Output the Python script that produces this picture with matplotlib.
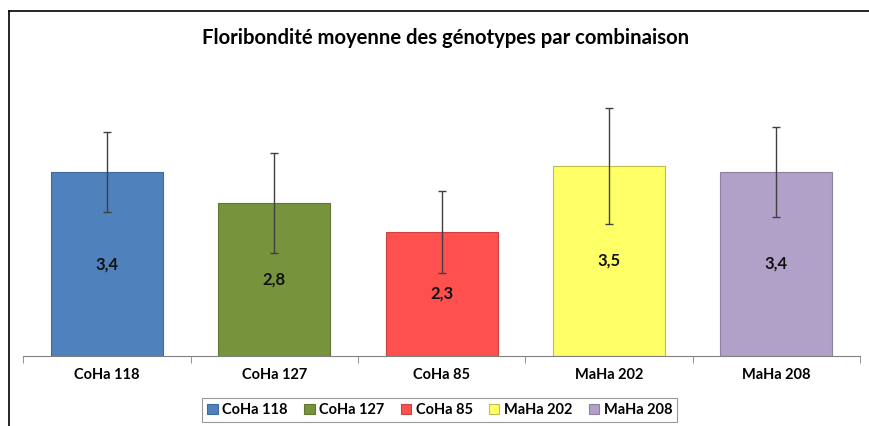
import numpy as np
import matplotlib
matplotlib.use("Agg")
import matplotlib.pyplot as plt
from matplotlib.lines import Line2D
from matplotlib.patches import Patch

plt.rcParams['font.family'] = ['Lato', 'DejaVu Sans']

genotypes = ["CoHa 118", "CoHa 127", "CoHa 85", "MaHa 202", "MaHa 208"]
means = [3.40, 2.83, 2.30, 3.52, 3.41]
errors = [0.74, 0.92, 0.76, 1.08, 0.84]
colors = ["#4F81BD", "#77933C", "#FF5050", "#FFFF66", "#B1A0C7"]
edges = ["#3F6A9E", "#5F7830", "#CC4040", "#BDBD4C", "#8E80A0"]

fig = plt.figure(figsize=(8.7, 4.26), dpi=100)
ax = fig.add_axes([0.0268, 0.165, 0.9617, 0.633])

x = np.arange(len(genotypes))
ax.bar(x, means, width=0.67, color=colors, edgecolor=edges, linewidth=0.8, zorder=2)
ax.errorbar(x, means, yerr=errors, fmt='none', ecolor='#404040', elinewidth=1.0,
            capsize=3, capthick=1.0, zorder=3)

for xi, m in zip(x, means):
    ax.text(xi, m / 2, ("%.1f" % m).replace('.', ','), ha='center', va='center',
            fontsize=12, fontweight='bold', color='#111111', zorder=4)

ax.set_xlim(-0.5, len(genotypes) - 0.5)
ax.set_ylim(0, 5)
ax.set_yticks([])
for s in ['top', 'right', 'left']:
    ax.spines[s].set_visible(False)
ax.spines['bottom'].set_color('#808080')

ax.set_xticks(x)
ax.set_xticklabels(genotypes, fontsize=10.5, fontweight='bold')
ax.tick_params(axis='x', which='major', length=0, pad=9)
ax.set_xticks(np.arange(-0.5, len(genotypes)), minor=True)
ax.tick_params(axis='x', which='minor', length=5, color='#808080')

fig.text(0.512, 0.91, "Floribondité moyenne des génotypes par combinaison",
         ha='center', va='center', fontsize=14.6, fontweight='bold')

handles = [Patch(facecolor=c, edgecolor=e, linewidth=0.8) for c, e in zip(colors, edges)]
leg = fig.legend(handles, genotypes, loc='center', bbox_to_anchor=(0.5055, 0.0375),
                 ncol=5, frameon=True, fancybox=False, prop={'size': 10.5, 'weight': 'bold'},
                 handlelength=0.7, handleheight=0.7, handletextpad=0.3, columnspacing=1.15,
                 borderpad=0.35)
leg.get_frame().set_edgecolor('#808080')
leg.get_frame().set_linewidth(0.8)

# outer chart frame (clipped at right and bottom in the original)
fig.add_artist(Line2D([9 / 870, 9 / 870], [0, 1 - 11 / 426], transform=fig.transFigure,
                      color='black', linewidth=1.2))
fig.add_artist(Line2D([9 / 870, 1], [1 - 11 / 426, 1 - 11 / 426], transform=fig.transFigure,
                      color='black', linewidth=1.2))

fig.savefig("out.png", dpi=100)
